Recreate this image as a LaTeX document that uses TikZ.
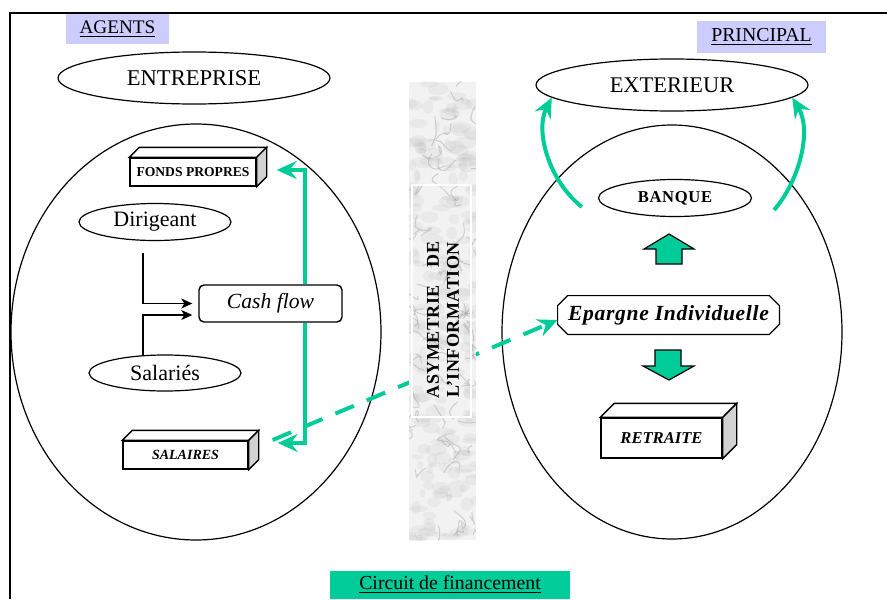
\documentclass[tikz,border=0pt]{standalone}
\usepackage{fontspec}
\setmainfont{Liberation Serif}
\usetikzlibrary{arrows.meta,calc,shapes.geometric}
\definecolor{vert}{HTML}{00CC99}
\definecolor{lavande}{HTML}{CCCCFF}

\begin{document}
\begin{tikzpicture}[x=0.5pt, y=-0.5pt,
    ovale/.style={draw, ellipse, inner sep=0pt, line width=0.6pt},
    boite/.style={draw, fill=white, inner sep=0pt, line width=0.7pt},
    etiquette/.style={inner sep=0pt},
    flux/.style={draw=vert, line width=2pt, -{Stealth[length=10pt,width=9pt,inset=3.5pt]}},
    fleche/.style={line width=0.6pt, -{Stealth[length=5.5pt,width=5pt,inset=1.5pt]}},
    bloc/.style={fill=vert, draw, line width=0.6pt, line join=miter}]
    \useasboundingbox (0,0) rectangle (887,599);
    \draw[line width=1pt] (10,599) -- (10,13) -- (887,13);

    % titres
    \node[etiquette, fill=lavande, minimum width=51.5pt, minimum height=15pt,
        font=\fontsize{9.6}{11}\selectfont] (agents) at (117.5,29) {\underline{AGENTS}};
    \node[etiquette, fill=lavande, minimum width=64.5pt, minimum height=16pt,
        font=\fontsize{9.9}{11}\selectfont] (principal) at (761.5,37) {\underline{PRINCIPAL}};
    \node[etiquette, fill=vert, minimum width=120pt, minimum height=14pt,
        font=\fontsize{9.9}{11}\selectfont] (circuit) at (450,585) {\underline{Circuit de financement}};

    % agents
    \node[ovale, minimum width=136pt, minimum height=26pt, font=\fontsize{11.3}{13}\selectfont] (entreprise) at (194,78) {ENTREPRISE};
    \draw[line width=0.6pt] (196,332) ellipse [x radius=185, y radius=208];
    \node[ovale, minimum width=76pt, minimum height=18.5pt, font=\fontsize{11}{13}\selectfont] (dirigeant) at (155,222) {Dirigeant};
    \node[ovale, minimum width=76pt, minimum height=18pt, font=\fontsize{11}{13}\selectfont] (salaries) at (165,373) {Salariés};
    \node[boite, minimum width=63pt, minimum height=14pt, font=\bfseries\fontsize{6.8}{8}\selectfont] (fonds) at (193,172) {FONDS PROPRES};
    \node[boite, minimum width=62.5pt, minimum height=14pt, font=\bfseries\itshape\fontsize{7}{8}\selectfont] (salaires) at (185.5,455) {SALAIRES};

    % principal
    \node[ovale, minimum width=136pt, minimum height=26pt, font=\fontsize{11.2}{13}\selectfont] (exterieur) at (672,85) {EXTERIEUR};
    \draw[line width=0.6pt] (672,332) ellipse [x radius=170, y radius=207];
    \node[ovale, minimum width=76.5pt, minimum height=18.5pt, font=\bfseries\addfontfeatures{LetterSpace=4}\fontsize{8.3}{10}\selectfont] (banque) at (675,198) {BANQUE};
    \node[etiquette, minimum width=110.5pt, minimum height=19pt,
        font=\bfseries\itshape\addfontfeatures{LetterSpace=3}\fontsize{10.8}{13}\selectfont] (epargne) at (668.5,315) {Epargne Individuelle};
    \draw[line width=0.6pt] ($(epargne.north west)+(10,0)$) -- ($(epargne.north east)+(-10,0)$) -- ($(epargne.north east)+(0,10)$)
        -- ($(epargne.south east)+(0,-10)$) -- ($(epargne.south east)+(-10,0)$) -- ($(epargne.south west)+(10,0)$)
        -- ($(epargne.south west)+(0,-10)$) -- ($(epargne.north west)+(0,10)$) -- cycle;
    \node[boite, minimum width=60.5pt, minimum height=20pt, font=\bfseries\itshape\fontsize{8.3}{10}\selectfont] (retraite) at (661.5,438) {RETRAITE};
    \filldraw[bloc] (669,234) -- (694,249) -- (682,249) -- (682,264) -- (656,264) -- (656,249) -- (644,249) -- cycle;
    \filldraw[bloc] (669,380) -- (694,366) -- (681,366) -- (681,350) -- (655,350) -- (655,366) -- (643,366) -- cycle;

    % faces des boites
    \foreach \b/\d in {fonds/10, salaires/10, retraite/14} {
        \filldraw[fill=white, line width=0.7pt] (\b.north west) -- ++(\d,-\d) -- ($(\b.north east)+(\d,-\d)$) -- (\b.north east) -- cycle;
        \filldraw[fill=gray!35, line width=0.7pt] (\b.north east) -- ($(\b.north east)+(\d,-\d)$) -- ($(\b.south east)+(\d,-\d)$) -- (\b.south east) -- cycle;
    }

    % liaisons
    \node[boite, rounded corners=2.5pt, minimum width=71.5pt, minimum height=18.5pt,
        font=\itshape\fontsize{10.8}{13}\selectfont] (cash) at (270.5,303.5) {Cash flow};
    \draw[fleche] ($(dirigeant.south)+(-12,12)$) |- ($(cash.west)+(-6,0)$);
    \draw[fleche] ($(salaries.north)+(-22,1)$) |- ($(cash.west)+(-6,11.5)$);
    \draw[flux] ($(cash.north)+(34.5,0)$) |- ($(fonds.east)+(20,-2)$);
    \draw[flux] ($(cash.south)+(34.5,0)$) |- ($(salaires.east)+(29,-12)$);
    \draw[flux, dash pattern=on 10pt off 7pt] ($(salaires.east)+(24,-15)$) -- ($(epargne.west)+(0,5)$);
    \draw[flux] ($(banque.west)+(-16,9)$) .. controls (548,180) and (535,130) .. (exterieur.186);
    \draw[flux] ($(banque.east)+(22,12)$) .. controls (800,180) and (812,130) .. (exterieur.354.5);

    % barre de marbre
    \begin{scope}
        \clip (409,82) rectangle (476,540);
        \fill[gray!10] (409,82) rectangle (476,540);
        \pgfmathsetseed{12}
        \foreach \k in {1,...,220}
            \fill[gray, opacity=0.07] (409+67*rnd,82+458*rnd) ellipse [x radius=3+9*rnd, y radius=2+5*rnd];
        \foreach \k in {1,...,70}
            \draw[gray!70, line width=0.5pt, opacity=0.45, rounded corners=3pt] (409+67*rnd,82+458*rnd) -- ++(14*rand,14*rand) -- ++(12*rand,12*rand) -- ++(10*rand,10*rand);
    \end{scope}
    \draw[white, line width=0.6pt] (412,185) rectangle (471,417);
    \node[etiquette, rotate=90, align=center,
        font=\bfseries\addfontfeatures{LetterSpace=3}\fontsize{9}{10}\selectfont] (asym) at (443,320)
        {ASYMETRIE\quad DE\\L’INFORMATION};
\end{tikzpicture}
\end{document}
